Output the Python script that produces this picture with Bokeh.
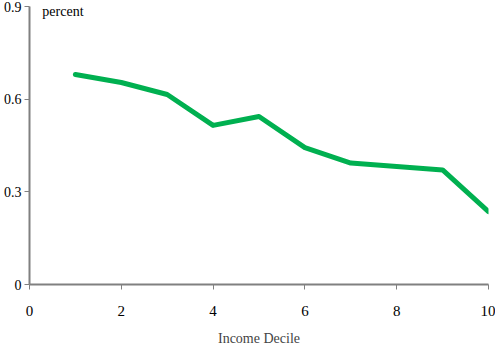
from bokeh.plotting import figure
from bokeh.models import FixedTicker, Label, Range1d
from bokeh.embed import file_html
from bokeh.resources import INLINE

deciles = [1, 2, 3, 4, 5, 6, 7, 8, 9, 10]
percent = [0.680, 0.654, 0.615, 0.515, 0.544, 0.443, 0.393, 0.382, 0.371, 0.236]
x_ticks = [0, 2, 4, 6, 8, 10]
y_ticks = [0, 0.3, 0.6, 0.9]
y_tick_labels = {0: "0", 0.3: "0.3", 0.6: "0.6", 0.9: "0.9"}

FONT = "Liberation Serif"
AX = "#808080"

p = figure(width=495, height=350, output_backend="svg", toolbar_location=None,
           x_range=Range1d(0, 10), y_range=Range1d(0, 0.9194),
           min_border_left=0, min_border_right=7, min_border_top=0, min_border_bottom=66)
p.outline_line_color = None
p.xgrid.visible = False
p.ygrid.visible = False
p.background_fill_color = "white"
p.border_fill_color = "white"

p.line(deciles, percent, line_color="#00B050", line_width=5, line_join="round", line_cap="round")

for ax in (p.xaxis[0], p.yaxis[0]):
    ax.axis_line_color = AX
    ax.axis_line_width = 2
    ax.major_tick_line_color = AX
    ax.major_tick_line_width = 1
    ax.major_tick_in = 0
    ax.major_tick_out = 5
    ax.minor_tick_line_color = None
    ax.major_label_text_font = FONT
    ax.major_label_text_font_size = "15px"
    ax.major_label_text_color = "black"

p.xaxis[0].ticker = FixedTicker(ticks=x_ticks)
p.xaxis[0].bounds = (0, 10)
p.xaxis[0].major_label_standoff = 16
p.xaxis[0].axis_label = "Income Decile"
p.xaxis[0].axis_label_text_font = FONT
p.xaxis[0].axis_label_text_font_size = "14px"
p.xaxis[0].axis_label_text_font_style = "normal"
p.xaxis[0].axis_label_standoff = 12

p.yaxis[0].ticker = FixedTicker(ticks=y_ticks)
p.yaxis[0].bounds = (0, 0.9)
p.yaxis[0].major_label_overrides = y_tick_labels
p.yaxis[0].major_label_text_font_size = "14px"
p.yaxis[0].major_label_standoff = 3

p.add_layout(Label(x=0.28, y=0.884, text="percent", text_font=FONT, text_font_size="14px",
                   text_baseline="alphabetic", text_color="black"))

open("out.html", "w").write(file_html(p, INLINE))
